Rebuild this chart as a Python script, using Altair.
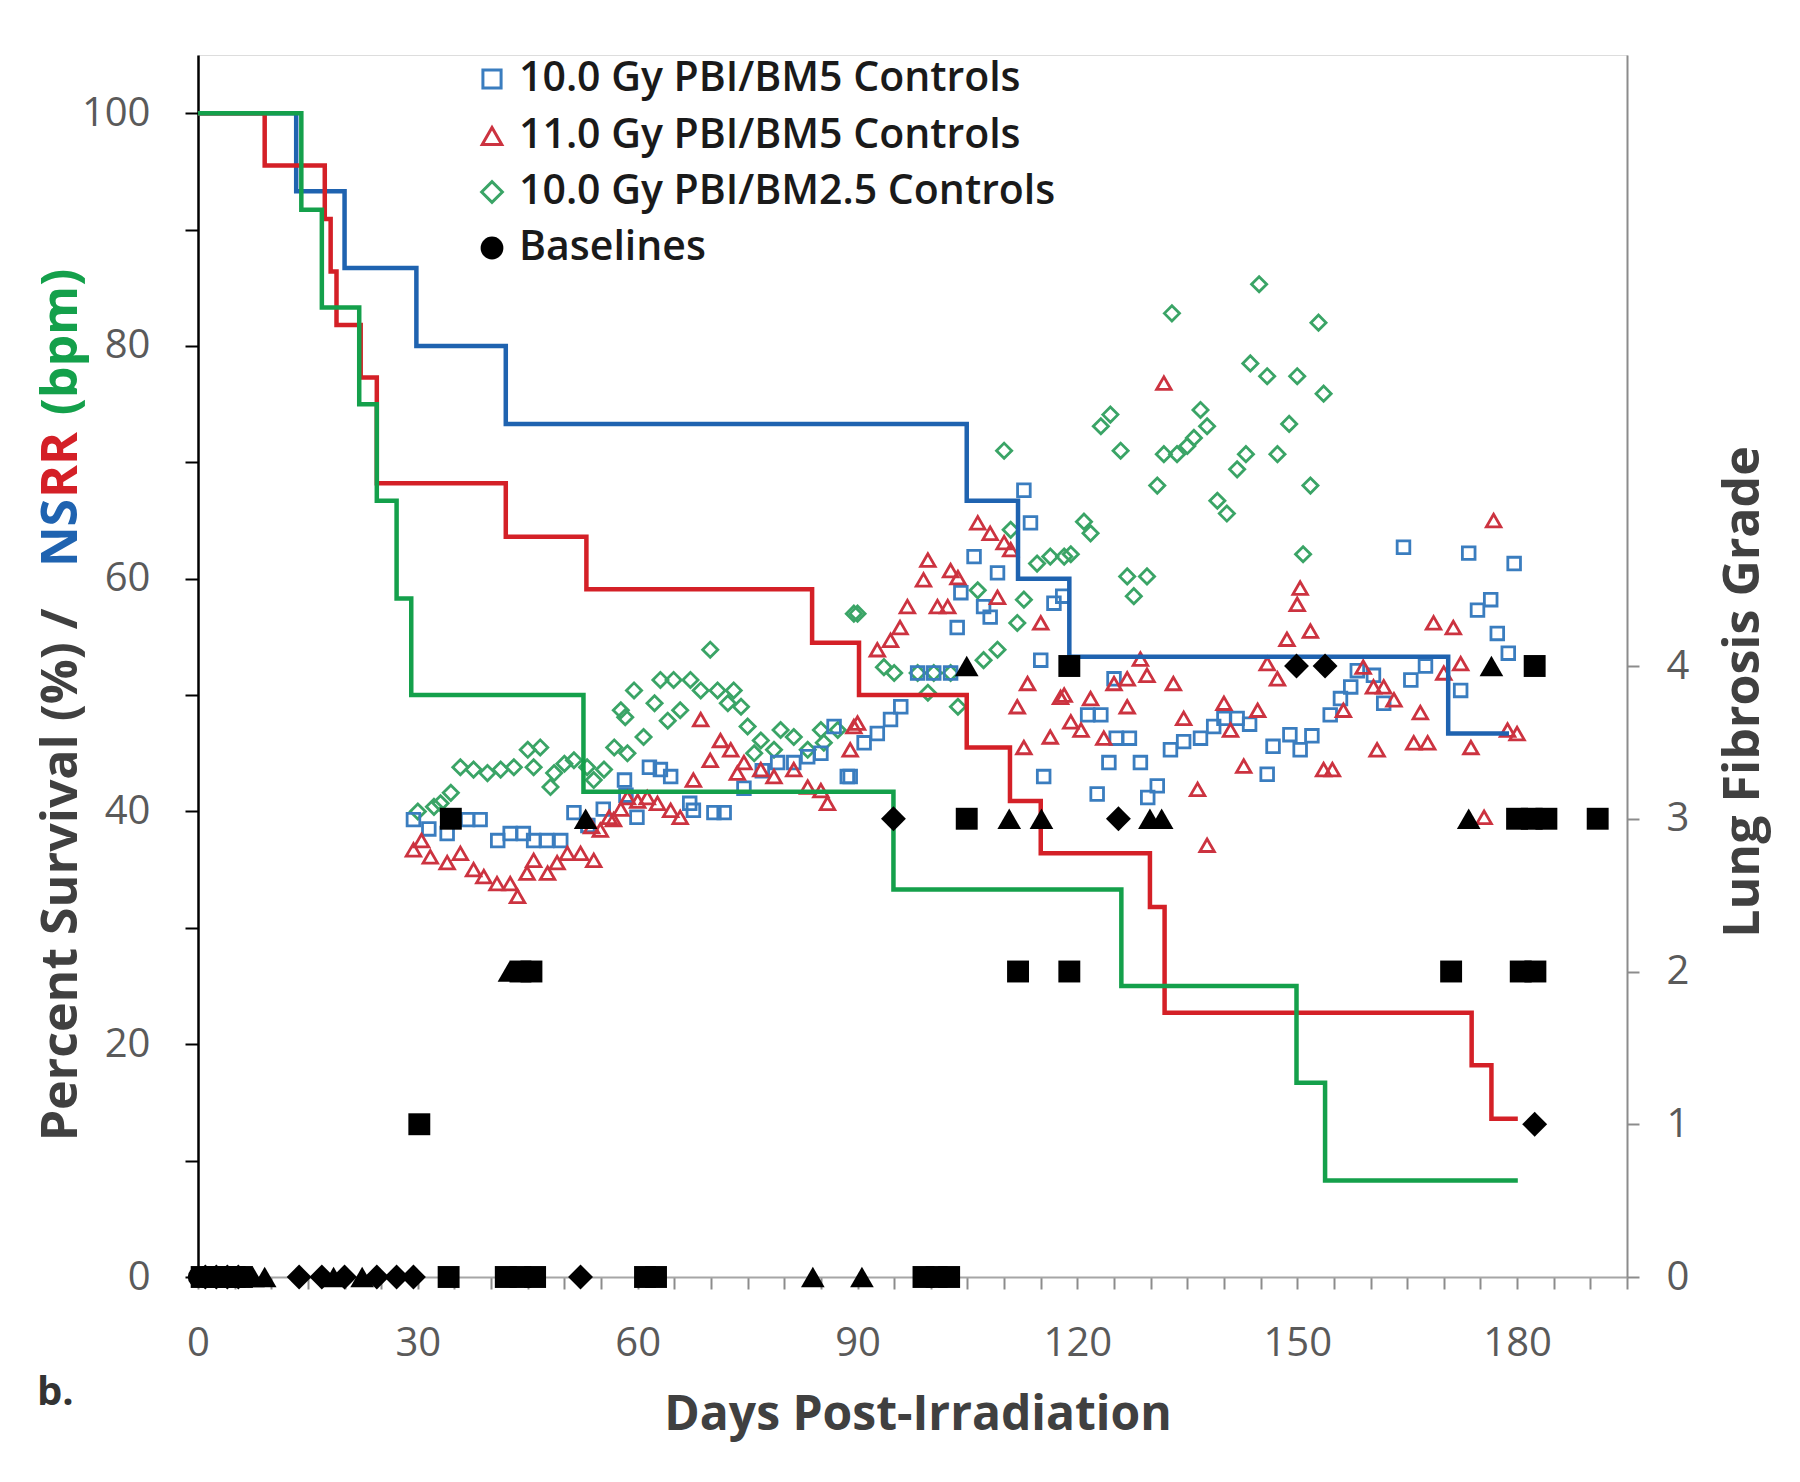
import altair as alt
import pandas as pd

FONT = "Open Sans"

# ---------------- Kaplan-Meier survival (%) ----------------
blue_days = [0, 13.4, 20.0, 29.8, 42.0, 104.9, 111.9, 118.9, 170.6, 178.9]
blue_surv = [100, 93.3, 86.7, 80.0, 73.3, 66.7, 60.0, 53.3, 46.7, 46.7]

red_days = [0, 9.1, 17.3, 18.1, 18.9, 22.2, 24.4, 42.0, 53.0, 83.8, 90.2,
            104.9, 110.8, 115.0, 129.9, 131.9, 173.8, 176.5, 180.1]
red_surv = [100, 95.5, 90.9, 86.4, 81.8, 77.3, 68.2, 63.6, 59.1, 54.5, 50.0,
            45.5, 40.9, 36.4, 31.8, 22.7, 18.2, 13.6, 13.6]

green_days = [0, 14.1, 16.9, 22.0, 24.4, 27.1, 29.1, 52.6, 94.9, 126.0, 149.9, 153.8, 180.1]
green_surv = [100, 91.7, 83.3, 75.0, 66.7, 58.3, 50.0, 41.7, 33.3, 25.0, 16.7, 8.3, 8.3]

# ---------------- NSRR (bpm) scatter ----------------
blue_nsrr_day = [29.4, 31.5, 34.0, 36.8, 38.5, 40.9, 42.6, 44.4, 45.8, 47.6, 49.5, 51.3, 53.2,
                 55.3, 58.2, 58.4, 59.9, 61.6, 63.1, 64.5, 67.1, 67.6, 70.4, 71.8, 74.5, 77.0,
                 79.1, 81.3, 83.2, 85.0, 86.8, 88.6, 89.0, 90.9, 92.7, 94.5, 95.9, 98.2, 100.4,
                 102.7, 103.6, 104.1, 105.9, 107.2, 108.1, 109.1, 112.7, 113.6, 115.0, 115.4,
                 116.8, 118.0, 121.4, 122.7, 123.2, 124.3, 125.0, 125.3, 127.1, 128.6, 129.6,
                 130.9, 132.7, 134.5, 136.8, 138.6, 140.0, 141.8, 143.5, 145.9, 146.7, 149.0,
                 150.4, 152.0, 154.5, 155.9, 157.3, 158.2, 160.4, 161.8, 164.5, 165.5, 167.5,
                 172.3, 173.4, 174.6, 176.4, 177.3, 178.8, 179.6]
blue_nsrr_val = [39.3, 38.5, 38.1, 39.3, 39.3, 37.5, 38.1, 38.1, 37.5, 37.5, 37.5, 39.9, 38.8,
                 40.2, 42.7, 41.4, 39.5, 43.8, 43.6, 43.0, 40.7, 40.1, 39.9, 39.9, 42.0, 43.5,
                 44.2, 44.2, 44.7, 45.0, 47.3, 43.0, 43.0, 45.9, 46.7, 47.9, 49.0, 51.9, 51.9,
                 51.9, 55.8, 58.8, 61.9, 57.6, 56.7, 60.5, 67.6, 64.8, 53.0, 43.0,
                 57.9, 58.5, 48.3, 41.5, 48.3, 44.2, 51.4, 46.3, 46.3, 44.2, 41.2,
                 42.2, 45.3, 46.0, 46.3, 47.3, 48.0, 48.0, 47.5, 43.2, 45.6, 46.6,
                 45.3, 46.5, 48.3, 49.7, 50.7, 52.1, 51.7, 49.3, 62.7, 51.3, 52.5,
                 50.4, 62.2, 57.3, 58.2, 55.3, 53.6, 61.3]

red_nsrr_day = [29.4, 30.5, 31.7, 34.0, 35.8, 37.6, 39.0, 40.8, 42.6, 43.6, 44.9, 45.8, 47.7,
                49.0, 50.4, 52.2, 53.7, 54.0, 54.9, 56.1, 56.7, 57.7, 58.6, 60.0, 61.3, 62.7,
                64.5, 65.8, 67.6, 68.6, 69.9, 71.3, 72.7, 73.6, 74.5, 76.8, 78.6, 81.3, 83.2,
                85.0, 85.9, 89.0, 89.5, 90.0, 92.7, 94.5, 95.8, 96.8, 99.0, 99.6, 100.9, 102.3,
                102.7, 103.7, 106.4, 108.1, 109.1, 110.0, 110.9, 111.8, 112.7, 113.2, 115.0,
                116.3, 117.7, 118.2, 119.1, 120.5, 121.8, 123.6, 125.0, 126.8, 126.8, 128.6,
                129.5, 131.8, 133.1, 134.5, 136.4, 137.7, 140.0, 140.9, 142.7, 144.6, 145.9,
                147.3, 148.6, 150.0, 150.4, 151.8, 153.6, 154.8, 156.3, 159.0, 160.4, 160.9,
                161.8, 163.2, 165.9, 166.8, 167.8, 168.6, 170.0, 171.3, 172.3, 173.7, 175.5,
                176.8, 178.7, 180.0]
red_nsrr_val = [36.7, 37.5, 36.1, 35.6, 36.4, 35.0, 34.4, 33.8, 33.8, 32.7, 34.7, 35.8, 34.7,
                35.6, 36.4, 36.4, 38.7, 35.8, 38.4, 39.5, 39.3, 40.2, 41.2, 40.9, 41.2, 40.7,
                40.1, 39.5, 42.7, 47.9, 44.4, 46.1, 45.3, 43.3, 44.2, 43.6, 43.0, 43.6, 42.1,
                41.8, 40.7, 45.3, 47.3, 47.6, 53.9, 54.7, 55.8, 57.6, 59.9, 61.6, 57.6, 57.6,
                60.7, 60.1, 64.8, 63.9, 58.4, 63.1, 62.5, 49.0, 45.5, 51.0, 56.2,
                46.4, 49.8, 50.0, 47.7, 47.0, 49.7, 46.3, 51.0, 51.4, 49.0, 53.1,
                51.7, 76.8, 51.0, 48.0, 41.9, 37.1, 49.3, 47.0, 43.9, 48.7, 52.7,
                51.4, 54.8, 57.8, 59.2, 55.5, 43.6, 43.6, 48.7, 52.4, 50.7, 45.3,
                50.7, 49.6, 45.9, 48.5, 45.9, 56.2, 51.9, 55.8, 52.7, 45.5, 39.5,
                65.0, 47.0, 46.7]

green_nsrr_day = [30.0, 32.2, 33.1, 34.5, 35.8, 37.6, 39.5, 41.3, 43.1, 45.0, 45.8, 46.7, 48.1,
                  48.6, 50.0, 51.3, 53.1, 54.0, 55.4, 56.8, 57.7, 58.3, 58.6, 59.5, 60.8, 62.3,
                  63.1, 64.1, 64.9, 65.8, 67.2, 68.6, 69.9, 70.9, 72.3, 73.1, 74.1, 75.0, 75.9,
                  76.8, 78.6, 79.5, 81.3, 83.2, 85.0, 85.4, 87.3, 89.5, 90.0, 93.6, 95.0, 98.2,
                  99.6, 100.4, 102.7, 103.7, 106.4, 107.2, 109.1, 110.0, 110.9, 111.8, 112.7,
                  114.5, 116.3, 118.2, 119.1, 120.9, 121.8, 123.2, 124.5, 125.9, 126.8, 127.7,
                  129.5, 130.9, 131.8, 132.9, 133.6, 135.0, 135.9, 136.8, 137.7, 139.1, 140.4,
                  141.8, 143.0, 143.6, 144.8, 145.9, 147.3, 148.9, 150.0, 150.8, 151.8, 152.9,
                  153.6]
green_nsrr_val = [40.0, 40.4, 40.7, 41.6, 43.8, 43.6, 43.3, 43.6, 43.8, 45.3, 43.8, 45.5, 42.1,
                  43.3, 44.1, 44.4, 43.8, 42.7, 43.6, 45.5, 48.7, 48.1, 45.0, 50.4, 46.4, 49.3,
                  51.3, 47.8, 51.3, 48.7, 51.3, 50.4, 53.9, 50.4, 49.3, 50.4, 49.0, 47.3, 45.0,
                  46.1, 45.3, 47.0, 46.4, 45.3, 47.0, 45.9, 47.0, 57.0, 57.0, 52.4, 51.9, 51.9,
                  50.2, 51.9, 51.9, 49.0, 59.0, 53.0, 53.9, 71.0, 64.2, 56.2, 58.2,
                  61.3, 61.9, 61.9, 62.1, 64.9, 63.9, 73.1, 74.1, 71.0, 60.2, 58.5,
                  60.2, 68.0, 70.7, 82.8, 70.7, 71.4, 72.1, 74.5, 73.1, 66.7, 65.6,
                  69.4, 70.7, 78.5, 85.3, 77.4, 70.7, 73.3, 77.4, 62.1, 68.0, 82.0,
                  75.9]

# ---------------- Lung fibrosis grades (black markers) ----------------
base_day = [0, 1, 2, 3,
            0.5, 2, 3.5, 5, 6,
            1, 2.5, 4, 5.5,
            7.5, 9.1,
            13.8, 16.9, 18.5, 20.0, 22.4, 24.4, 27.1, 29.4,
            34.2, 42.0, 44.0, 46.0, 61.0, 62.5, 99.0, 100.8, 102.5,
            52.2, 83.9, 90.6,
            30.2, 182.4,
            42.5, 44.0, 45.5, 111.9, 118.9, 171.0, 180.5, 182.5,
            34.5, 52.9, 94.9, 104.9, 110.7, 115.1, 125.6, 129.9, 131.5, 173.4,
            180.0, 182.0, 184.0, 191.0,
            104.9, 118.9, 149.9, 153.8, 176.5, 182.4]
base_grade = [0, 0, 0, 0,
              0, 0, 0, 0, 0,
              0, 0, 0, 0,
              0, 0,
              0, 0, 0, 0, 0, 0, 0, 0,
              0, 0, 0, 0, 0, 0, 0, 0, 0,
              0, 0, 0,
              1, 1,
              2, 2, 2, 2, 2, 2, 2, 2,
              3, 3, 3, 3, 3, 3, 3, 3, 3, 3,
              3, 3, 3, 3,
              4, 4, 4, 4, 4, 4]
base_shape = ["circle"] * 4 + ["square"] * 5 + ["diamond"] * 4 + ["triangle"] * 2 + \
             ["diamond", "diamond", "triangle", "diamond", "triangle", "diamond", "diamond", "diamond"] + \
             ["square"] * 9 + ["diamond", "triangle", "triangle"] + \
             ["square", "diamond"] + \
             ["triangle"] + ["square"] * 7 + \
             ["square", "triangle", "diamond", "square", "triangle", "triangle", "diamond",
              "triangle", "triangle", "triangle", "square", "square", "square", "square"] + \
             ["triangle", "square", "diamond", "diamond", "triangle", "square"]

legend_labels = ["10.0 Gy PBI/BM5 Controls", "11.0 Gy PBI/BM5 Controls",
                 "10.0 Gy PBI/BM2.5 Controls", "Baselines"]

BLUE, RED, GREEN = "#1f63b0", "#d42027", "#14a04b"
BLUE_P, RED_P, GREEN_P = "#3a7dbf", "#cc3340", "#3aa466"

W, H = 1429, 1222

x_scale = alt.Scale(domain=[0, 195], nice=False, zero=False)
y_scale = alt.Scale(domain=[0, 105], nice=False)
g_scale = alt.Scale(domain=[0, 8], nice=False)

x_axis = alt.Axis(values=list(range(0, 196, 5)), format="d",
                  labelExpr="datum.value % 30 == 0 && datum.value <= 180 ? datum.label : ''",
                  title=None, grid=False, domainColor="#a6a6a6", domainWidth=2,
                  tickColor="#8c8c8c", tickWidth=2, tickSize=12,
                  labelFont=FONT, labelFontSize=40, labelColor="#5a5a5a",
                  labelPadding=34, labelFlush=False, labelOverlap=False)
y_axis = alt.Axis(values=list(range(0, 101, 10)), format="d",
                  labelExpr="datum.value % 20 == 0 ? datum.label : ''",
                  title=None, grid=False, domainColor="black", domainWidth=2.5,
                  tickColor="black", tickWidth=2, tickSize=13,
                  labelFont=FONT, labelFontSize=40, labelColor="#5a5a5a",
                  labelPadding=35, labelOverlap=False)
g_axis = alt.Axis(orient="right", values=[0, 1, 2, 3, 4], format="d", title=None, grid=False,
                  domainColor="#8c8c8c", domainWidth=2, tickColor="#8c8c8c", tickWidth=2,
                  tickSize=12, labelFont=FONT, labelFontSize=40, labelColor="#5a5a5a",
                  labelPadding=27, labelOverlap=False)

X = alt.X("day:Q", scale=x_scale, axis=x_axis)
Y = alt.Y("value:Q", scale=y_scale, axis=y_axis)


def step_line(days, vals, color):
    df = pd.DataFrame({"day": days, "value": vals})
    return alt.Chart(df).mark_line(interpolate="step-after", strokeWidth=4.5, color=color).encode(x=X, y=Y)


def scatter(days, vals, color, shape, size):
    df = pd.DataFrame({"day": days, "value": vals})
    return alt.Chart(df).mark_point(shape=shape, filled=False, size=size, strokeWidth=2.8,
                                    color=color, opacity=1).encode(x=X, y=Y)


def txt(s, x, y, color, size, weight=600, angle=0, align="center", baseline="middle"):
    return alt.Chart(pd.DataFrame({"t": [s]})).mark_text(
        font=FONT, fontSize=size, fontWeight=weight, color=color, angle=angle,
        align=align, baseline=baseline).encode(text="t:N", x=alt.value(x), y=alt.value(y))


def sym(x, y, shape, color, size, filled):
    mk = alt.Chart(pd.DataFrame({"t": [0]})).mark_point(
        shape=shape, size=size, filled=filled, strokeWidth=3, color=color, opacity=1)
    return mk.encode(x=alt.value(x), y=alt.value(y))


scatter_layers = [
    scatter(green_nsrr_day, green_nsrr_val, GREEN_P, "diamond", 230),
    scatter(blue_nsrr_day, blue_nsrr_val, BLUE_P, "square", 160),
    scatter(red_nsrr_day, red_nsrr_val, RED_P, "triangle-up", 210),
]
line_layers = [
    step_line(blue_days, blue_surv, BLUE),
    step_line(red_days, red_surv, RED),
    step_line(green_days, green_surv, GREEN),
]

# legend (inside plot, top-left)
leg_rows = [24, 81, 137, 193]
legend_layers = [
    sym(294, leg_rows[0], "square", BLUE_P, 330, False),
    sym(294, leg_rows[1], "triangle-up", RED_P, 380, False),
    sym(294, leg_rows[2], "diamond", GREEN_P, 430, False),
    sym(294, leg_rows[3], "circle", "black", 520, True),
]
for lab, ry in zip(legend_labels, leg_rows):
    legend_layers.append(txt(lab, 321, ry, "#1a1a1a", 41, align="left"))

# titles / annotations
text_layers = [
    txt("Percent Survival (%) /", -136, 820, "#404040", 50, weight="bold", angle=270),
    txt("NS", -136, 478, BLUE, 50, weight="bold", angle=270),
    txt("RR", -136, 410, RED, 50, weight="bold", angle=270),
    txt("(bpm)", -136, 287, GREEN, 50, weight="bold", angle=270),
    txt("Lung Fibrosis Grade", 1546, 637, "#404040", 50, weight="bold", angle=270),
    txt("Days Post-Irradiation", 720, 1375, "#404040", 48, weight="bold", baseline="alphabetic"),
    txt("b.", -161, 1350, "#333333", 40, weight="bold", align="left", baseline="alphabetic"),
]

left = alt.layer(*scatter_layers, *line_layers, *legend_layers, *text_layers)

bdf = pd.DataFrame({"day": base_day, "grade": base_grade, "shape": base_shape})
G = alt.Y("grade:Q", scale=g_scale, axis=g_axis)
marker_specs = [("square", "square", 480), ("triangle", "triangle-up", 560),
                ("diamond", "diamond", 620), ("circle", "circle", 420)]
right_layers = []
for key, shp, sz in marker_specs:
    right_layers.append(
        alt.Chart(bdf).transform_filter(alt.datum.shape == key).mark_point(
            shape=shp, size=sz, filled=True, color="black", opacity=1).encode(x=X, y=G))
right = alt.layer(*right_layers)

chart = alt.layer(left, right).resolve_scale(y="independent").properties(
    width=W, height=H,
    autosize=alt.AutoSizeParams(type="none"),
    padding={"left": 190, "top": 47, "right": 165, "bottom": 197},
).configure_view(stroke=None).configure(background="white")

chart.save("out.html", embed_options={"renderer": "svg", "actions": False})
